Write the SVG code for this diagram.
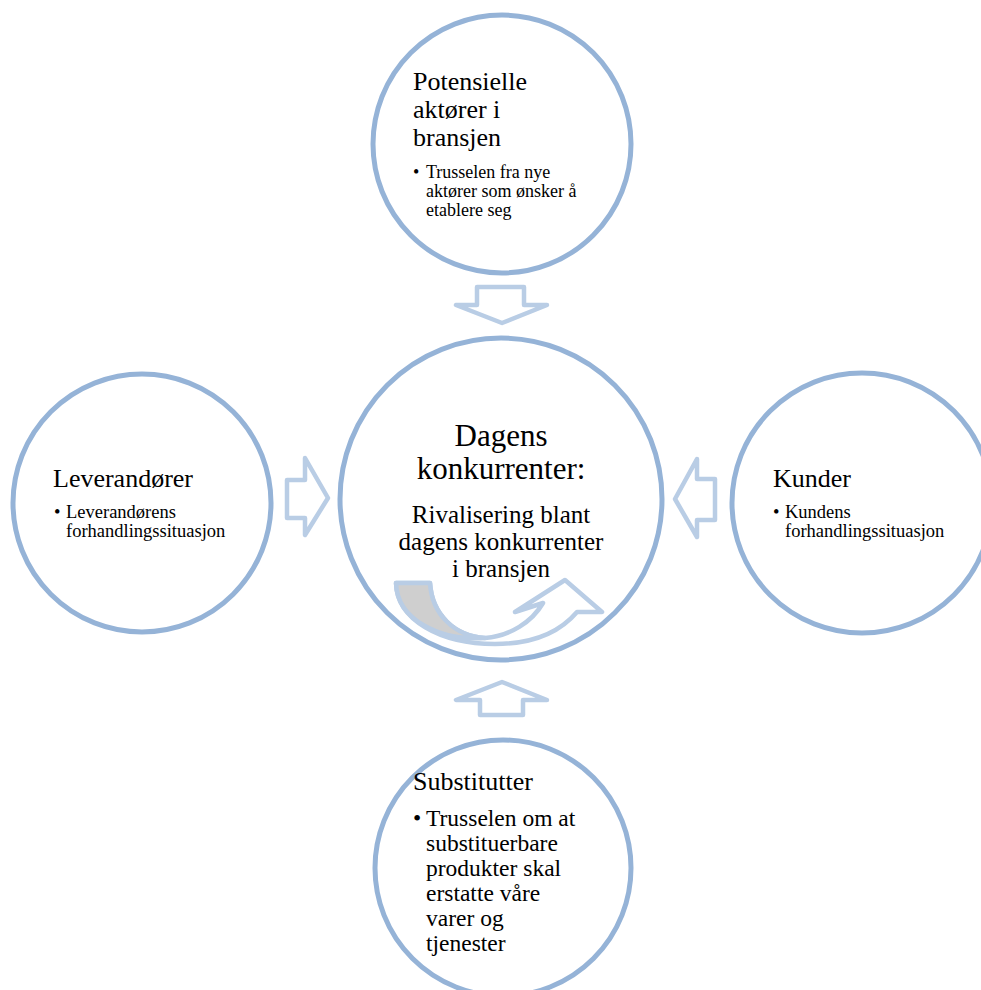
<svg xmlns="http://www.w3.org/2000/svg" width="981" height="990" viewBox="0 0 981 990">
<style>
.c{fill:#fff;stroke:#95b3d7;stroke-width:5}
.a{fill:#fff;stroke:#b9cde5;stroke-width:4.5;stroke-linejoin:round}
text{font-family:"Liberation Serif","Times New Roman",serif;fill:#000}
.t{font-size:26px}
.b{font-size:18.5px}
.bt{font-size:18px}
.bb{font-size:23.5px}
.m1{font-size:31px;text-anchor:middle}
.m2{font-size:25px;text-anchor:middle}
</style>
<rect width="981" height="990" fill="#fff"/>
<g id="connectors">
<path class="a" d="M477,287 L524,287 L524,305 L547,305 L502,323 L456,305 L477,305 Z"/>
<path class="a" d="M480,715 L523,715 L523,700 L547,700 L502,682 L456,700 L480,700 Z"/>
<path class="a" d="M287,480 L305,480 L305,458 L328,498 L305,535 L305,518 L287,518 Z"/>
<path class="a" d="M715,479 L697,479 L697,459 L675,499 L697,537 L697,520 L715,520 Z"/>
</g>
<g id="center">
<circle class="c" cx="501" cy="499" r="161"/>
<text class="m1" x="501" y="446">Dagens</text>
<text class="m1" x="501" y="479">konkurrenter:</text>
<text class="m2" x="501" y="523">Rivalisering blant</text>
<text class="m2" x="501" y="550">dagens konkurrenter</text>
<text class="m2" x="501" y="577">i bransjen</text>
<path class="a" d="M396,583 L430,583 C432,615 455,636 485,638 C510,636 532,622 543,603 L515,612 L565,580 L602,612 L577,612 C560,632 535,644 495,644 C440,644 397,620 396,583 Z"/>
<path class="a" style="fill:#cfcfcf" d="M396,583 L430,583 C432,615 455,636 485,638 C440,641 397,620 396,583 Z"/>
</g>
<g id="top">
<circle class="c" cx="502" cy="144" r="129"/>
<text class="t" x="413" y="90">Potensielle</text>
<text class="t" x="413" y="118">aktører i</text>
<text class="t" x="413" y="146">bransjen</text>
<text class="bt" x="413" y="178">•</text>
<text class="bt" x="426" y="178">Trusselen fra nye</text>
<text class="bt" x="426" y="197">aktører som ønsker å</text>
<text class="bt" x="426" y="216">etablere seg</text>
</g>
<g id="left">
<circle class="c" cx="142" cy="503" r="129"/>
<text class="t" x="53" y="487">Leverandører</text>
<text class="b" x="54" y="518">•</text>
<text class="b" x="66" y="518">Leverandørens</text>
<text class="b" x="66" y="537">forhandlingssituasjon</text>
</g>
<g id="right">
<circle class="c" cx="862" cy="503" r="130"/>
<text class="t" x="773" y="487">Kunder</text>
<text class="b" x="773" y="518">•</text>
<text class="b" x="785" y="518">Kundens</text>
<text class="b" x="785" y="537">forhandlingssituasjon</text>
</g>
<g id="bottom">
<circle class="c" cx="503" cy="868" r="128"/>
<text class="t" x="413" y="790">Substitutter</text>
<text class="bb" x="413" y="826">•</text>
<text class="bb" x="426" y="826">Trusselen om at</text>
<text class="bb" x="426" y="851">substituerbare</text>
<text class="bb" x="426" y="876">produkter skal</text>
<text class="bb" x="426" y="901">erstatte våre</text>
<text class="bb" x="426" y="926">varer og</text>
<text class="bb" x="426" y="951">tjenester</text>
</g>
</svg>
